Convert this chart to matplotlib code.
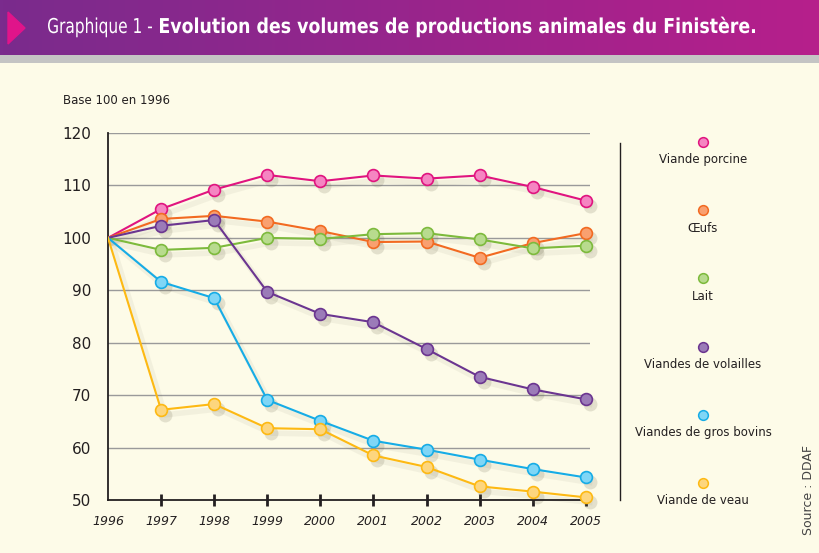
import matplotlib
matplotlib.use("Agg")
import matplotlib.pyplot as plt
from matplotlib.textpath import TextPath
from matplotlib.patches import PathPatch
from matplotlib.font_manager import FontProperties
from matplotlib.transforms import Affine2D, offset_copy
from matplotlib.colors import LinearSegmentedColormap
import numpy as np

years = [1996, 1997, 1998, 1999, 2000, 2001, 2002, 2003, 2004, 2005]
porcine = [100, 105.5, 109.2, 112.0, 110.8, 111.9, 111.3, 111.9, 109.7, 107.1]
oeufs = [100, 103.6, 104.2, 103.1, 101.3, 99.2, 99.3, 96.2, 99.0, 100.9]
lait = [100, 97.7, 98.1, 100.0, 99.8, 100.7, 100.9, 99.7, 98.0, 98.5]
volailles = [100, 102.3, 103.4, 89.7, 85.5, 83.9, 78.8, 73.5, 71.1, 69.2]
bovins = [100, 91.6, 88.5, 69.1, 65.1, 61.3, 59.6, 57.7, 55.9, 54.3]
veau = [100, 67.2, 68.3, 63.7, 63.5, 58.5, 56.3, 52.6, 51.6, 50.5]

names = ["Viande porcine", "Œufs", "Lait", "Viandes de volailles",
         "Viandes de gros bovins", "Viande de veau"]
series = [porcine, oeufs, lait, volailles, bovins, veau]
line_colors = ["#E0147F", "#F26A21", "#7DBA3C", "#6B3590", "#16ACE6", "#FDB913"]
face_colors = ["#F585C2", "#F9A070", "#B8DB8E", "#9B7BB8", "#7FD6F6", "#FDD67E"]

bg = "#FDFBE8"
fig = plt.figure(figsize=(8.19, 5.53), dpi=100, facecolor=bg)

# header band, data units = pixels
hdr = fig.add_axes([0, 1 - 55 / 553, 1, 55 / 553])
grad = np.linspace(0, 1, 256).reshape(1, -1)
cm = LinearSegmentedColormap.from_list("hdr", ["#7A2B8D", "#B61F8B"])
hdr.imshow(grad, aspect="auto", cmap=cm, extent=[0, 819, 0, 55])
hdr.fill([8, 8, 25], [43, 11, 27], color="#E0148A", zorder=3)
hdr.set_xlim(0, 819)
hdr.set_ylim(0, 55)
hdr.axis("off")


def squeezed_text(ax, s, x0, x1, base, size, weight):
    tp = TextPath((0, 0), s, size=size, prop=FontProperties(family="DejaVu Sans", weight=weight))
    ext = tp.get_extents()
    sx = (x1 - x0) / ext.width
    tr = Affine2D().translate(-ext.x0, 0).scale(sx, 1).translate(x0, base)
    ax.add_patch(PathPatch(tr.transform_path(tp), color="white", lw=0, zorder=4))


squeezed_text(hdr, "Graphique 1 -", 48, 152, 55 - 33, 20.5, "normal")
squeezed_text(hdr, "Evolution des volumes de productions animales du Finistère.",
              160, 755, 55 - 33, 20.5, "bold")

gray = fig.add_axes([0, 1 - 63 / 553, 1, 8 / 553])
gray.set_facecolor("#C4C4C4")
gray.set_xticks([])
gray.set_yticks([])
for s in gray.spines.values():
    s.set_visible(False)

# main plot
ax = fig.add_axes([108 / 819, 1 - 500 / 553, 482 / 819, 367 / 553])
ax.set_facecolor(bg)
ax.set_xlim(1996, 2005.08)
ax.set_ylim(50, 120)
for y in range(60, 121, 10):
    ax.axhline(y, color="#9A9A9A", lw=1, zorder=1)

shadow_tr = offset_copy(ax.transData, fig=fig, x=4, y=-5, units="dots")
for vals, lc, fc in zip(series, line_colors, face_colors):
    ax.plot(years, vals, color="#6E6A50", alpha=0.07, lw=4, transform=shadow_tr,
            zorder=2, clip_on=False)
    ax.plot(years[1:], vals[1:], "o", ms=10, color="#6E6A50", alpha=0.18, mew=0,
            transform=shadow_tr, zorder=2, clip_on=False)
for vals, lc, fc in zip(series, line_colors, face_colors):
    ax.plot(years, vals, color=lc, lw=1.5, zorder=3)
    ax.plot(years[1:], vals[1:], "o", ms=8.5, mfc=fc, mec=lc, mew=1.2, zorder=4,
            clip_on=False)

ax.spines["top"].set_visible(False)
ax.spines["right"].set_visible(False)
ax.spines["left"].set_color("#231F20")
ax.spines["bottom"].set_color("#231F20")
ax.spines["left"].set_linewidth(1.3)
ax.spines["bottom"].set_linewidth(1.3)

ax.set_yticks(range(50, 121, 10))
ax.tick_params(axis="y", length=0, labelsize=11, pad=12, colors="#231F20")
ax.set_xticks(years)
ax.set_xticklabels([str(y) for y in years], fontstyle="italic", fontsize=9)
ax.tick_params(axis="x", direction="inout", length=9, width=2, pad=6, colors="#231F20")
ax.get_xticklines()[0].set_visible(False)

fig.text(63 / 819, 1 - 101 / 553, "Base 100 en 1996", fontsize=8.5, color="#231F20",
         va="center", ha="left")

# legend
fig.add_artist(plt.Line2D([620 / 819, 620 / 819], [1 - 143 / 553, 1 - 500 / 553],
                          color="#231F20", lw=1))
for i, (name, lc, fc) in enumerate(zip(names, line_colors, face_colors)):
    ym = 142 + i * 68.2
    fig.add_artist(plt.Line2D([703 / 819], [1 - ym / 553], marker="o", ms=7,
                              mfc=fc, mec=lc, mew=1.1, ls="none"))
    fig.text(703 / 819, 1 - (ym + 18) / 553, name, fontsize=8.5, color="#231F20",
             ha="center", va="center")

fig.text(808 / 819, 1 - 490 / 553, "Source : DDAF", rotation=90, fontsize=9,
         color="#444444", ha="center", va="center")

fig.savefig("out.png", dpi=100, facecolor=bg)
